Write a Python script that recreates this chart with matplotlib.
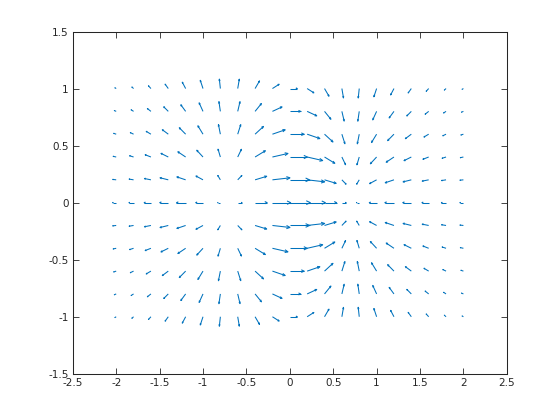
import numpy as np
import matplotlib
matplotlib.use('Agg')
import matplotlib.pyplot as plt
from matplotlib.collections import LineCollection

# grid positions (columns = x, rows = y)
X_VALUES = [-2.0, -1.8, -1.6, -1.4, -1.2, -1.0, -0.8, -0.6, -0.4, -0.2, 0.0,
            0.2, 0.4, 0.6, 0.8, 1.0, 1.2, 1.4, 1.6, 1.8, 2.0]
Y_VALUES = [-1.0, -0.8, -0.6, -0.4, -0.2, 0.0, 0.2, 0.4, 0.6, 0.8, 1.0]

# vector components, one row per y value (bottom row first)
DX = [
    [-0.062, -0.080, -0.117, -0.148, -0.157, -0.127, -0.047, 0.075, 0.208, 0.314, 0.354, 0.314, 0.208, 0.075, -0.047, -0.127, -0.157, -0.148, -0.117, -0.080, -0.062],
    [-0.089, -0.115, -0.167, -0.212, -0.225, -0.181, -0.067, 0.107, 0.299, 0.449, 0.507, 0.449, 0.299, 0.107, -0.067, -0.181, -0.225, -0.212, -0.167, -0.115, -0.089],
    [-0.118, -0.152, -0.221, -0.280, -0.298, -0.240, -0.089, 0.141, 0.395, 0.595, 0.670, 0.595, 0.395, 0.141, -0.089, -0.240, -0.298, -0.280, -0.221, -0.152, -0.118],
    [-0.144, -0.185, -0.270, -0.342, -0.364, -0.293, -0.108, 0.173, 0.482, 0.726, 0.819, 0.726, 0.482, 0.173, -0.108, -0.293, -0.364, -0.342, -0.270, -0.185, -0.144],
    [-0.163, -0.209, -0.304, -0.386, -0.410, -0.330, -0.122, 0.195, 0.544, 0.819, 0.923, 0.819, 0.544, 0.195, -0.122, -0.330, -0.410, -0.386, -0.304, -0.209, -0.163],
    [-0.169, -0.218, -0.317, -0.402, -0.427, -0.344, -0.127, 0.202, 0.566, 0.852, 0.961, 0.852, 0.566, 0.202, -0.127, -0.344, -0.427, -0.402, -0.317, -0.218, -0.169],
    [-0.163, -0.209, -0.304, -0.386, -0.410, -0.330, -0.122, 0.195, 0.544, 0.819, 0.923, 0.819, 0.544, 0.195, -0.122, -0.330, -0.410, -0.386, -0.304, -0.209, -0.163],
    [-0.144, -0.185, -0.270, -0.342, -0.364, -0.293, -0.108, 0.173, 0.482, 0.726, 0.819, 0.726, 0.482, 0.173, -0.108, -0.293, -0.364, -0.342, -0.270, -0.185, -0.144],
    [-0.118, -0.152, -0.221, -0.280, -0.298, -0.240, -0.089, 0.141, 0.395, 0.595, 0.670, 0.595, 0.395, 0.141, -0.089, -0.240, -0.298, -0.280, -0.221, -0.152, -0.118],
    [-0.089, -0.115, -0.167, -0.212, -0.225, -0.181, -0.067, 0.107, 0.299, 0.449, 0.507, 0.449, 0.299, 0.107, -0.067, -0.181, -0.225, -0.212, -0.167, -0.115, -0.089],
    [-0.062, -0.080, -0.117, -0.148, -0.157, -0.127, -0.047, 0.075, 0.208, 0.314, 0.354, 0.314, 0.208, 0.075, -0.047, -0.127, -0.157, -0.148, -0.117, -0.080, -0.062],
]
DY = [
    [-0.029, -0.056, -0.099, -0.157, -0.227, -0.293, -0.336, -0.334, -0.272, -0.153, 0.0, 0.153, 0.272, 0.334, 0.336, 0.293, 0.227, 0.157, 0.099, 0.056, 0.029],
    [-0.030, -0.058, -0.102, -0.163, -0.234, -0.303, -0.348, -0.345, -0.281, -0.159, 0.0, 0.159, 0.281, 0.345, 0.348, 0.303, 0.234, 0.163, 0.102, 0.058, 0.030],
    [-0.030, -0.057, -0.101, -0.160, -0.231, -0.299, -0.343, -0.340, -0.277, -0.156, 0.0, 0.156, 0.277, 0.340, 0.343, 0.299, 0.231, 0.160, 0.101, 0.057, 0.030],
    [-0.024, -0.046, -0.081, -0.130, -0.187, -0.242, -0.278, -0.275, -0.224, -0.126, 0.0, 0.126, 0.224, 0.275, 0.278, 0.242, 0.187, 0.130, 0.081, 0.046, 0.024],
    [-0.014, -0.026, -0.046, -0.073, -0.105, -0.136, -0.156, -0.155, -0.126, -0.071, 0.0, 0.071, 0.126, 0.155, 0.156, 0.136, 0.105, 0.073, 0.046, 0.026, 0.014],
    [0.0] * 21,
    [0.014, 0.026, 0.046, 0.073, 0.105, 0.136, 0.156, 0.155, 0.126, 0.071, 0.0, -0.071, -0.126, -0.155, -0.156, -0.136, -0.105, -0.073, -0.046, -0.026, -0.014],
    [0.024, 0.046, 0.081, 0.130, 0.187, 0.242, 0.278, 0.275, 0.224, 0.126, 0.0, -0.126, -0.224, -0.275, -0.278, -0.242, -0.187, -0.130, -0.081, -0.046, -0.024],
    [0.030, 0.057, 0.101, 0.160, 0.231, 0.299, 0.343, 0.340, 0.277, 0.156, 0.0, -0.156, -0.277, -0.340, -0.343, -0.299, -0.231, -0.160, -0.101, -0.057, -0.030],
    [0.030, 0.058, 0.102, 0.163, 0.234, 0.303, 0.348, 0.345, 0.281, 0.159, 0.0, -0.159, -0.281, -0.345, -0.348, -0.303, -0.234, -0.163, -0.102, -0.058, -0.030],
    [0.029, 0.056, 0.099, 0.157, 0.227, 0.293, 0.336, 0.334, 0.272, 0.153, 0.0, -0.153, -0.272, -0.334, -0.336, -0.293, -0.227, -0.157, -0.099, -0.056, -0.029],
]

X_TICKS = [-2.5, -2, -1.5, -1, -0.5, 0, 0.5, 1, 1.5, 2, 2.5]
Y_TICKS = [-1.5, -1, -0.5, 0, 0.5, 1, 1.5]

ARROW_COLOR = '#0072BD'
AXIS_COLOR = '#262626'


def arrow_segments(x, y, u, v, alpha=0.2, beta=0.35):
    # matlab-like open arrows: shaft plus two head strokes
    segs = []
    for x0, y0, du, dv in zip(x, y, u, v):
        x1, y1 = x0 + du, y0 + dv
        segs.append([(x0, y0), (x1, y1)])
        segs.append([(x1 - alpha * (du + beta * dv), y1 - alpha * (dv - beta * du)), (x1, y1),
                     (x1 - alpha * (du - beta * dv), y1 - alpha * (dv + beta * du))])
    return segs


def main():
    X, Y = np.meshgrid(X_VALUES, Y_VALUES)
    U = np.array(DX)
    V = np.array(DY)

    # autoscale like matlab quiver: longest arrow ~0.9 of a grid cell
    m, n = U.shape
    delx = (max(X_VALUES) - min(X_VALUES)) / n
    dely = (max(Y_VALUES) - min(Y_VALUES)) / m
    maxlen = np.sqrt((U ** 2 + V ** 2) / (delx ** 2 + dely ** 2)).max()
    scale = 0.9 / maxlen

    fig = plt.figure(figsize=(5.6, 4.2), dpi=100)
    ax = fig.add_axes([0.13, 0.11, 0.775, 0.815])

    segs = arrow_segments(X.ravel(), Y.ravel(), U.ravel() * scale, V.ravel() * scale)
    ax.add_collection(LineCollection(segs, colors=ARROW_COLOR, linewidths=0.75))

    ax.set_xlim(-2.5, 2.5)
    ax.set_ylim(-1.5, 1.5)
    ax.set_xticks(X_TICKS)
    ax.set_yticks(Y_TICKS)
    ax.set_xticklabels([f'{t:g}' for t in X_TICKS])
    ax.set_yticklabels([f'{t:g}' for t in Y_TICKS])
    ax.tick_params(direction='in', length=4, width=0.6, top=True, right=True,
                   labelsize=7.5, colors=AXIS_COLOR, pad=3)
    for sp in ax.spines.values():
        sp.set_color(AXIS_COLOR)
        sp.set_linewidth(0.75)

    fig.savefig('out.png', dpi=100)
    plt.close(fig)


if __name__ == '__main__':
    main()
